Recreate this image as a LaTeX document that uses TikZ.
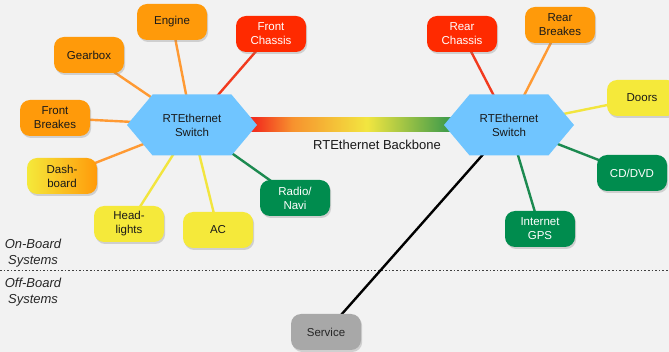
\documentclass[tikz,border=0pt]{standalone}
\usepackage{fontspec}
\setmainfont{Liberation Sans}
\usetikzlibrary{shapes.symbols,shadows,calc}

% palette
\definecolor{paper}{HTML}{F2F2F2}
\definecolor{orangeFill}{HTML}{FF9A0A}
\definecolor{redFill}{HTML}{FF2A00}
\definecolor{yellowFill}{HTML}{F5E93A}
\definecolor{greenFill}{HTML}{008C4E}
\definecolor{greyFill}{HTML}{A8A8A8}
\definecolor{hexFill}{HTML}{70C5FF}
\definecolor{orangeLine}{HTML}{FF9A33}
\definecolor{redLine}{HTML}{F23A1E}
\definecolor{yellowLine}{HTML}{F2E53E}
\definecolor{greenLine}{HTML}{1C8A50}
\definecolor{bbRed}{HTML}{F2301E}
\definecolor{bbOrange}{HTML}{F7922E}
\definecolor{bbYellow}{HTML}{F2E640}
\definecolor{bbGreen}{HTML}{459E4A}

\pgfdeclarehorizontalshading{backbone}{100bp}{color(0bp)=(bbRed); color(27bp)=(bbRed); color(36bp)=(bbOrange); color(54bp)=(bbYellow); color(73bp)=(bbGreen); color(100bp)=(bbGreen)}

\pgfdeclarelayer{bg}
\pgfdeclarelayer{links}
\pgfsetlayers{bg,links,main}

\tikzset{
  unit/.style={rounded corners=10pt, minimum width=70pt, minimum height=36pt,
    inner sep=0pt, align=center, text=black!90, font=\fontsize{11.5}{14}\selectfont,
    drop shadow={shadow xshift=1.2pt, shadow yshift=-2pt, opacity=0.3}},
  orangeunit/.style={unit, fill=orangeFill},
  redunit/.style={unit, fill=redFill, text=white},
  yellowunit/.style={unit, fill=yellowFill},
  greenunit/.style={unit, fill=greenFill, text=white},
  greyunit/.style={unit, fill=greyFill, text=black!85},
  switch/.style={signal, signal to=west and east, signal pointer angle=100,
    minimum width=130pt, minimum height=61pt, inner sep=0pt, fill=hexFill,
    align=center, text=black!90, font=\fontsize{11.5}{14}\selectfont},
  link/.style={line width=2.4pt},
  zone/.style={align=center, font=\fontsize{13}{16}\selectfont\itshape, text=black!85},
}

\begin{document}
\begin{tikzpicture}[x=1pt, y=-1pt]
  \useasboundingbox (0,0) rectangle (669,352);
  \begin{pgfonlayer}{bg}
    \fill[paper] (0,0) rectangle (669,352);
  \end{pgfonlayer}

  % switches
  \node[switch] (swL) at (192,125) {RTEthernet\\Switch};
  \node[switch] (swR) at (509,125) {RTEthernet\\Switch};

  % front units
  \node[orangeunit] (engine)  at (172,22)  {Engine};
  \node[redunit]    (fchas)   at (271,34)  {Front\\Chassis};
  \node[orangeunit] (gearbox) at (89,55)   {Gearbox};
  \node[orangeunit] (fbrake)  at (55,118)  {Front\\Breakes};
  \node[unit, left color=yellowFill, right color=orangeFill] (dash) at (62,176) {Dash-\\board};
  \node[yellowunit] (head)    at (129,224) {Head-\\lights};
  \node[yellowunit] (ac)      at (218,230) {AC};
  \node[greenunit]  (radio)   at (295,198) {Radio/\\Navi};

  % rear units
  \node[redunit]    (rchas)   at (462,34)  {Rear\\Chassis};
  \node[orangeunit] (rbrake)  at (560,25)  {Rear\\Breakes};
  \node[yellowunit] (doors)   at (642,98)  {Doors};
  \node[greenunit]  (cd)      at (632,173) {CD/DVD};
  \node[greenunit]  (gps)     at (540,229) {Internet\\GPS};

  % off-board
  \node[greyunit]   (service) at (326,332) {Service};

  % zone labels
  \node[zone] (onboard)  at (33,253) {On-Board\\Systems};
  \node[zone] (offboard) at (33,292) {Off-Board\\Systems};
  \node[font=\fontsize{13}{16}\selectfont, text=black!90] (bblabel) at (377,145) {RTEthernet Backbone};

  \coordinate (divL) at (0,270);
  \coordinate (divR) at (669,270);

  \begin{pgfonlayer}{links}
    \draw[black!75, line width=0.9pt, dash pattern=on 1.6pt off 2pt] (divL) -- (divR);
    % backbone bar, its ends tucked under the switches
    \shade[shading=backbone] ($(swL.east)+(-10,-7)$) rectangle ($(swR.west)+(10,7)$);
    \draw[link, orangeLine] (swL.center) -- (engine.center);
    \draw[link, orangeLine] (swL.center) -- (gearbox.center);
    \draw[link, orangeLine] (swL.center) -- (fbrake.center);
    \draw[link, orangeLine] (swL.center) -- (dash.center);
    \draw[link, redLine]    (swL.center) -- (fchas.center);
    \draw[link, yellowLine] (swL.center) -- (head.center);
    \draw[link, yellowLine] (swL.center) -- (ac.center);
    \draw[link, greenLine]  (swL.center) -- (radio.center);
    \draw[link, redLine]    (swR.center) -- (rchas.center);
    \draw[link, orangeLine] (swR.center) -- (rbrake.center);
    \draw[link, yellowLine] (swR.center) -- (doors.center);
    \draw[link, greenLine]  (swR.center) -- (cd.center);
    \draw[link, greenLine]  (swR.center) -- (gps.center);
    \draw[link, black]      (swR.center) -- (service.center);
  \end{pgfonlayer}
\end{tikzpicture}
\end{document}
